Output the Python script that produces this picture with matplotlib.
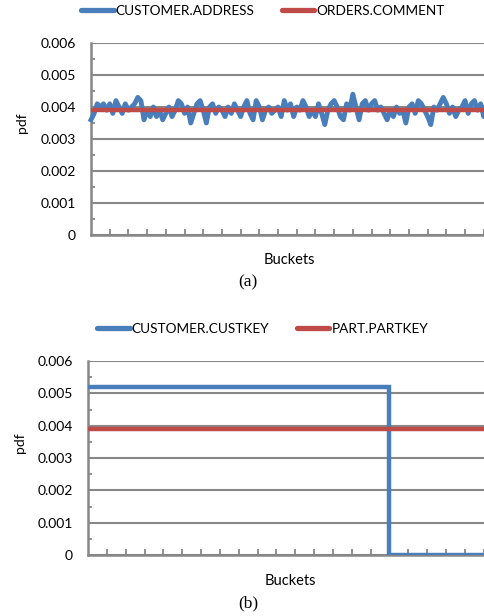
import numpy as np
import matplotlib.pyplot as plt
from matplotlib.lines import Line2D

# panel (a): CUSTOMER.ADDRESS pdf, one value every 2 buckets
address_pdf = [
    0.0036, 0.0038, 0.0041, 0.0040, 0.0041, 0.0039, 0.0041, 0.0038,
    0.0042, 0.0040, 0.0038, 0.0041, 0.0039, 0.0040, 0.0041, 0.0043,
    0.0042, 0.0036, 0.0039, 0.0037, 0.0040, 0.0037, 0.0039, 0.0036,
    0.0038, 0.0040, 0.0037, 0.0039, 0.0042, 0.0041, 0.0038, 0.0040,
    0.0035, 0.0038, 0.0041, 0.0042, 0.0039, 0.0035, 0.0040, 0.0041,
    0.0038, 0.0040, 0.0039, 0.0037, 0.0040, 0.0038, 0.0041, 0.0039,
    0.0037, 0.0040, 0.0042, 0.0038, 0.0036, 0.0042, 0.0040, 0.0036,
    0.0039, 0.0040, 0.0038, 0.0039, 0.0040, 0.0037, 0.0042, 0.0039,
    0.0041, 0.0037, 0.0040, 0.0039, 0.0042, 0.0040, 0.0037, 0.0039,
    0.0037, 0.0041, 0.0038, 0.00345, 0.0039, 0.0041, 0.0042, 0.0040,
    0.0037, 0.0036, 0.0041, 0.0039, 0.0044, 0.0040, 0.0036, 0.0041,
    0.0042, 0.0039, 0.0041, 0.0042, 0.0039, 0.0040, 0.0038, 0.0036,
    0.0039, 0.0037, 0.0040, 0.0038, 0.0039, 0.0035, 0.0040, 0.0041,
    0.0038, 0.0042, 0.0041, 0.0039, 0.0037, 0.00345, 0.0040, 0.0039,
    0.0041, 0.0043, 0.0041, 0.0038, 0.0040, 0.0037, 0.0039, 0.0040,
    0.0042, 0.0038, 0.0041, 0.0042, 0.0039, 0.0041, 0.0037, 0.0044,
]
address_buckets = np.arange(len(address_pdf)) * 2
comment_pdf = 0.0039

# panel (b)
custkey_edges = [0, 192, 256]
custkey_pdf = [0.0052, 0.0]
partkey_pdf = 0.0039

n_buckets = 256
yticks = [0, 0.001, 0.002, 0.003, 0.004, 0.005, 0.006]
ytick_labels = ['0', '0.001', '0.002', '0.003', '0.004', '0.005', '0.006']

blue = '#4A7EBB'
red = '#BE4B48'
gray = '#878787'

plt.rcParams['font.family'] = ['Lato', 'DejaVu Sans']

fig = plt.figure(figsize=(4.85, 6.16), dpi=100)
ax_a = fig.add_axes([91 / 485, 1 - 235 / 616, 399 / 485, 192 / 616])
ax_b = fig.add_axes([88 / 485, 1 - 555 / 616, 402 / 485, 194 / 616])


def style(ax):
    ax.set_xlim(0, n_buckets)
    ax.set_ylim(0, 0.006)
    ax.set_yticks(yticks)
    ax.set_yticklabels(ytick_labels)
    ax.set_yticks(np.arange(0.0005, 0.006, 0.001), minor=True)
    ax.set_xticks(np.arange(12, n_buckets, 12))
    ax.set_xticklabels([])
    ax.grid(axis='y', color=gray, linewidth=1.5)
    ax.set_axisbelow(True)
    for side in ['top', 'right']:
        ax.spines[side].set_visible(False)
    for side in ['left', 'bottom']:
        ax.spines[side].set_color(gray)
        ax.spines[side].set_linewidth(1.8)
    ax.tick_params(axis='x', direction='in', length=4, width=1.3, color=gray)
    ax.tick_params(axis='y', which='major', length=0, pad=11, labelsize=10)
    ax.tick_params(axis='y', which='minor', direction='in', length=3, width=1.3, color=gray)


style(ax_a)
ax_a.plot(address_buckets, address_pdf, color=blue, linewidth=3.5, clip_on=False, zorder=3)
ax_a.axhline(comment_pdf, color=red, linewidth=3.2, zorder=4)

style(ax_b)
ax_b.stairs(custkey_pdf, custkey_edges, color=blue, linewidth=3.2, baseline=None, zorder=3)
ax_b.axhline(partkey_pdf, color=red, linewidth=3.2, zorder=4)


def legend(ax, labels, y, x):
    handles = [Line2D([], [], color=c, linewidth=3.8, solid_capstyle='round')
               for c in (blue, red)]
    ax.legend(handles, labels, loc='center left', bbox_to_anchor=(x / 485, y / 616),
              bbox_transform=fig.transFigure,
              ncol=2, frameon=False, fontsize=9.8, handlelength=2.4,
              handletextpad=0.15, columnspacing=2.0, borderaxespad=0, borderpad=0)


legend(ax_a, ['CUSTOMER.ADDRESS', 'ORDERS.COMMENT'], 616 - 11, 81)
legend(ax_b, ['CUSTOMER.CUSTKEY', 'PART.PARTKEY'], 616 - 329, 97)

fig.text(22 / 485, 1 - 123 / 616, 'pdf', rotation=90, ha='center', va='center', fontsize=10)
fig.text(20 / 485, 1 - 443 / 616, 'pdf', rotation=90, ha='center', va='center', fontsize=10)
fig.text(289 / 485, 1 - 260 / 616, 'Buckets', ha='center', va='center', fontsize=10.5)
fig.text(290 / 485, 1 - 581 / 616, 'Buckets', ha='center', va='center', fontsize=10.5)
fig.text(248 / 485, 1 - 282 / 616, '(a)', ha='center', va='center', fontsize=12.5,
         family='Liberation Serif')
fig.text(248 / 485, 1 - 603 / 616, '(b)', ha='center', va='center', fontsize=12.5,
         family='Liberation Serif')

fig.savefig('out.png', dpi=100)
